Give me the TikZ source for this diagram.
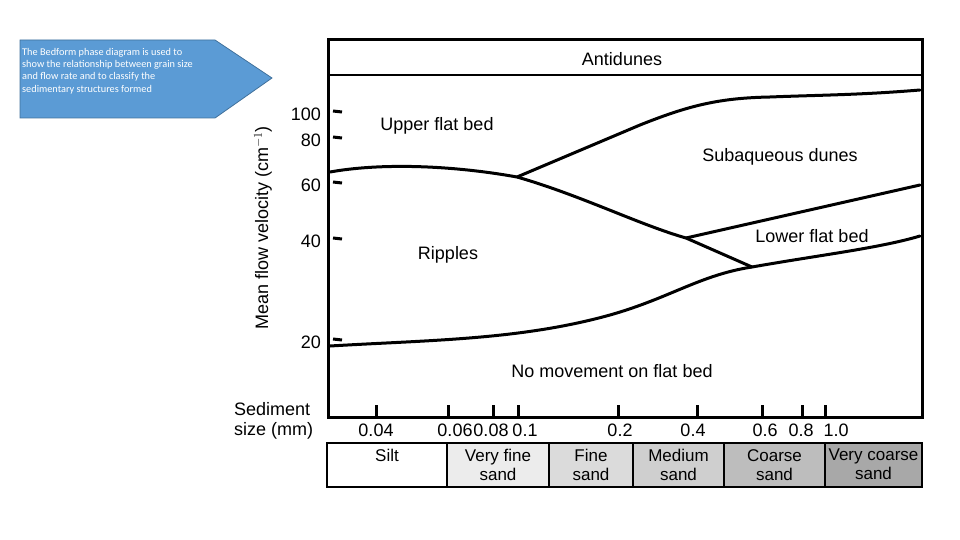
\documentclass[tikz,border=0pt]{standalone}
\usepackage{fontspec}
\setmainfont{Liberation Sans}
\newfontfamily\calfont{Carlito}
\begin{document}
\begin{tikzpicture}[x=1pt,y=-1pt,
  lbl/.style={font=\fontsize{18}{20}\selectfont,inner sep=0pt},
  tick/.style={line width=3pt},
  curve/.style={line width=3pt,line cap=round}]
\useasboundingbox (0,0) rectangle (960,540);
% callout
\draw[fill={rgb,255:red,91;green,155;blue,213}, draw={rgb,255:red,65;green,113;blue,156}, line width=0.8pt]
 (20,40) -- (215,40) -- (272,78) -- (215,118) -- (20,118) -- cycle;
\node[anchor=north west,align=left,text=white,font=\calfont\fontsize{10.3}{12.3}\selectfont,inner sep=0pt] (callout) at (22,48)
 {The Bedform phase diagram is used to\\show the relationship between grain size\\and flow rate and to classify the\\sedimentary structures formed};
% frame
\draw[line width=3pt] (328,40) rectangle (922,417);
\draw[line width=2.5pt] (328,75) -- (922,75);
\node[lbl] (anti) at (622,59) {Antidunes};
% y ticks
\foreach \y/\t in {111/100,137/80,182/60,238/40,339/20}{
  \draw[tick] (333,\y) -- (342,\y+1);
  \node[lbl,anchor=east] at (321,\y+3) {\t};}
\node[lbl,rotate=90] (ylab) at (263,228) {Mean flow velocity (cm$^{-1}$)};
% x ticks
\foreach \x in {376,448,493,518,618,697,762,802,825}{
  \draw[tick] (\x,405) -- (\x,416);}
\foreach \x/\t in {376/0.04,455/0.06,491/0.08,525/0.1,620/0.2,693/0.4,765/0.6,801/0.8,836/1.0}{
  \node[lbl] at (\x,430) {\t};}
\node[lbl,align=left,anchor=west] (sed) at (234,421) {Sediment\\size (mm)};
% curves
\draw[curve] (330,172) .. controls (380,163) and (450,165) .. (517,177)
  .. controls (580,195) and (640,225) .. (686,238) -- (752,267);
\draw[curve] (517,177) -- (640,125) .. controls (690,105) and (720,98) .. (770,97)
  .. controls (820,95) and (860,95) .. (920,90);
\draw[curve] (686,238) -- (920,185);
\draw[curve] (330,346) .. controls (430,340) and (520,340) .. (610,315)
  .. controls (670,298) and (700,275) .. (752,267)
  .. controls (820,255) and (880,248) .. (920,236);
% region labels
\node[lbl] (ufb) at (437,126) {Upper flat bed};
\node[lbl] (sd) at (780,157) {Subaqueous dunes};
\node[lbl] (lfb) at (812,236) {Lower flat bed};
\node[lbl] (rip) at (448,255) {Ripples};
\node[lbl] (nm) at (612,371) {No movement on flat bed};
% bottom bar
\foreach \a/\b/\c/\t in {327/447/white/{Silt},447/549/gray!15/{Very fine\\sand},549/633/gray!28/{Fine\\sand},633/724/gray!38/{Medium\\sand},724/825/gray!52/{Coarse\\sand},825/922/gray!68/{Very coarse\\sand}}{
  \draw[fill=\c,line width=2.5pt] (\a,443) rectangle (\b,487);
  \node[lbl,align=center,anchor=north,font=\fontsize{17}{19}\selectfont] at ({(\a+\b)/2},449) {\t};}
\end{tikzpicture}
\end{document}
